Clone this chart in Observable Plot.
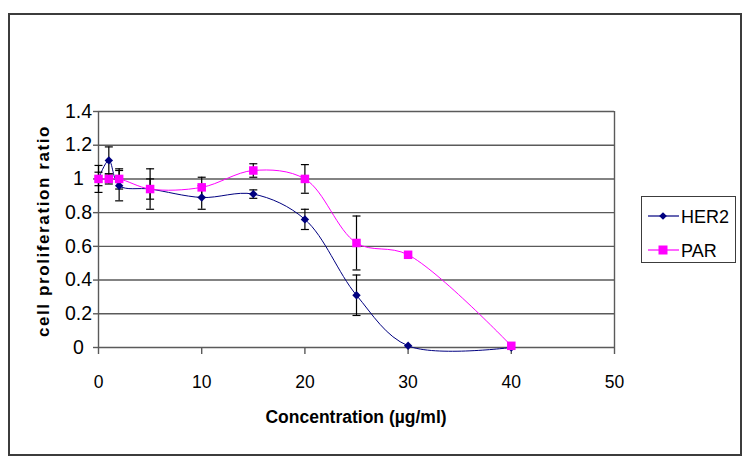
<!DOCTYPE html>
<html>
<head>
<meta charset="utf-8">
<script src="https://cdn.jsdelivr.net/npm/d3@7"></script>
<script src="https://cdn.jsdelivr.net/npm/@observablehq/plot@0.6"></script>
<style>
  html, body { margin: 0; padding: 0; background: #fff; }
  #wrap { position: relative; width: 750px; height: 467px; font-family: "Liberation Sans", Arial, sans-serif; }
  #border { position: absolute; left: 8px; top: 13px; width: 730px; height: 439px; border: 2px solid #3c3c3c; box-sizing: content-box; pointer-events: none; }
  #legend { position: absolute; left: 641px; top: 196px; width: 93px; height: 65px; border: 1px solid #3c3c3c; background: #fff; }
  #legend svg { display: block; }
</style>
</head>
<body>
<div id="wrap">
  <div id="border"></div>
  <div id="chart"></div>
  <div id="legend"></div>
</div>
<script>
// ---- data ----
const concentration = [0, 1, 2, 5, 10, 15, 20, 25, 30, 40];
const her2 = [1.00, 1.11, 0.96, 0.94, 0.89, 0.91, 0.76, 0.31, 0.01, 0.00];
const her2Err = [0.08, 0.08, 0.09, 0.12, 0.07, 0.025, 0.06, 0.12, 0, 0];
const par = [1.00, 1.00, 1.00, 0.94, 0.95, 1.05, 1.00, 0.62, 0.55, 0.01];
const parErr = [0.04, 0.03, 0.06, 0.06, 0.06, 0.04, 0.085, 0.16, 0, 0];
const xTicks = [0, 10, 20, 30, 40, 50];
const yTicks = [0, 0.2, 0.4, 0.6, 0.8, 1.0, 1.2, 1.4];
const seriesNames = ["HER2", "PAR"];
const seriesColors = ["#000080", "#ff00ff"];

const her2Data = concentration.map((c, i) => ({c, v: her2[i], e: her2Err[i]}));
const parData = concentration.map((c, i) => ({c, v: par[i], e: parErr[i]}));
const errData = [...her2Data, ...parData].filter(d => d.e > 0);

const capSymbol = {
  draw(context, size) {
    const r = Math.sqrt(size / Math.PI);
    context.moveTo(-r, 0);
    context.lineTo(r, 0);
  }
};

const gridColor = "#5a5a5a";

const chart = Plot.plot({
  width: 750,
  height: 467,
  marginLeft: 98,
  marginRight: 136,
  marginTop: 111,
  marginBottom: 120,
  x: {domain: [0, 50]},
  y: {domain: [0, 1.4]},
  style: {fontFamily: "'Liberation Sans', Arial, sans-serif", fontSize: "17px", background: "transparent", color: "#000"},
  marks: [
    Plot.ruleY(yTicks, {stroke: gridColor, strokeWidth: 1.4}),
    Plot.ruleX([0, 50], {stroke: gridColor, strokeWidth: 1.4}),
    Plot.axisX({ticks: xTicks, tickSize: 7, tickPadding: 21, fontSize: 17.5, tickFormat: d => String(d), label: null, stroke: gridColor, strokeWidth: 1.4}),
    Plot.axisY({ticks: yTicks, tickSize: 5, tickPadding: 15, fontSize: 19.5, textAnchor: "middle", tickFormat: d => String(+d.toFixed(1)), label: null, stroke: gridColor, strokeWidth: 1.4}),
    Plot.line(her2Data, {x: "c", y: "v", stroke: seriesColors[0], strokeWidth: 1, curve: "catmull-rom"}),
    Plot.line(parData, {x: "c", y: "v", stroke: seriesColors[1], strokeWidth: 1, curve: "catmull-rom"}),
    Plot.ruleX(errData, {x: "c", y1: d => d.v - d.e, y2: d => d.v + d.e, stroke: "#000", strokeWidth: 1.2}),
    Plot.dot(errData, {x: "c", y: d => d.v - d.e, r: 4, symbol: capSymbol, stroke: "#000", strokeWidth: 1.2}),
    Plot.dot(errData, {x: "c", y: d => d.v + d.e, r: 4, symbol: capSymbol, stroke: "#000", strokeWidth: 1.2}),
    Plot.dot(her2Data, {x: "c", y: "v", symbol: "diamond2", r: 3.8, fill: seriesColors[0], stroke: "none"}),
    Plot.dot(parData, {x: "c", y: "v", symbol: "square", r: 4.8, fill: seriesColors[1], stroke: "none"})
  ]
});

const svg = d3.select(chart);
svg.append("text")
  .attr("x", 356).attr("y", 423)
  .attr("text-anchor", "middle")
  .attr("font-weight", "bold")
  .attr("font-size", "17.5px")
  .attr("fill", "#000")
  .text("Concentration (µg/ml)");
svg.append("text")
  .attr("transform", "translate(49,231) rotate(-90)")
  .attr("text-anchor", "middle")
  .attr("font-weight", "bold")
  .attr("font-size", "17px")
  .attr("letter-spacing", "1.6px")
  .attr("fill", "#000")
  .text("cell proliferation ratio");

document.getElementById("chart").appendChild(chart);

// ---- legend ----
const leg = d3.select("#legend").append("svg").attr("width", 93).attr("height", 65)
  .style("font-family", "'Liberation Sans', Arial, sans-serif");
seriesNames.forEach((name, i) => {
  const y = 19 + i * 34;
  const g = leg.append("g").attr("transform", `translate(0,${y})`);
  g.append("line").attr("x1", 6).attr("x2", 37).attr("y1", 0).attr("y2", 0)
    .attr("stroke", seriesColors[i]).attr("stroke-width", 1.2);
  if (i === 0) {
    g.append("path").attr("d", d3.symbol(d3.symbolDiamond2, 38)()).attr("transform", "translate(21,0)").attr("fill", seriesColors[i]);
  } else {
    g.append("rect").attr("x", 16.5).attr("y", -4.5).attr("width", 9).attr("height", 9).attr("fill", seriesColors[i]);
  }
  g.append("text").attr("x", 39).attr("y", 6.5).attr("font-size", "18px").attr("fill", "#000").text(name);
});
</script>
</body>
</html>
